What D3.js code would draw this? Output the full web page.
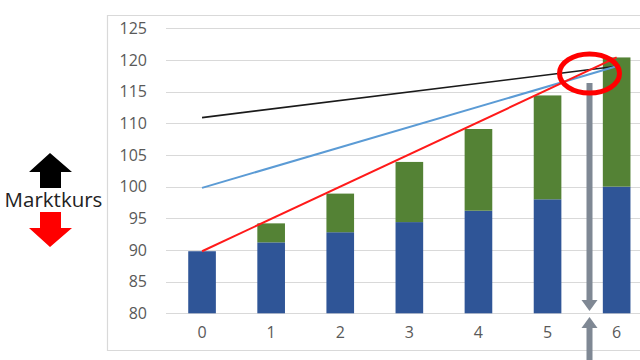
<!DOCTYPE html>
<html><head><meta charset="utf-8">
<script src="https://cdn.jsdelivr.net/npm/d3@7"></script>
<style>html,body{margin:0;padding:0;background:#fff;}svg{display:block;}</style>
</head><body>
<svg id="c" width="640" height="360"></svg>
<script>
const categories = ["0","1","2","3","4","5","6"];
const blueValues = [89.8, 91.2, 92.8, 94.4, 96.2, 98.0, 100.0];
const totalValues = [89.8, 94.2, 98.9, 103.9, 109.1, 114.4, 120.4];
const blackLine = [110.9, 119.0];
const blueLine = [99.8, 119.0];
const redLine = [89.8, 120.4];
const lineCats = ["0","6"];
const yTicks = [80,85,90,95,100,105,110,115,120,125];
const yMin = 80, yMax = 125;
const labelText = "Marktkurs";

const svg = d3.select("#c");
const x = d3.scaleBand().domain(categories).range([167.5, 651.2]).paddingInner(0.6).paddingOuter(0.3);
const y = d3.scaleLinear().domain([yMin, yMax]).range([313.3, 28.3]);
const cx = c => x(c) + x.bandwidth()/2;

// frame
svg.append("path").attr("d","M640,15.5H107.5V350.5H640").attr("fill","none").attr("stroke","#d9d9d9").attr("stroke-width",1.2);

// gridlines
svg.append("g").selectAll("line").data(yTicks).join("line")
  .attr("x1",166).attr("x2",640).attr("y1",d=>Math.round(y(d))+0.5).attr("y2",d=>Math.round(y(d))+0.5)
  .attr("stroke","#d9d9d9").attr("stroke-width",1);

// y axis labels
const yAxis = d3.axisLeft(y).tickValues(yTicks).tickSize(0).tickPadding(0);
const ya = svg.append("g").attr("transform","translate(147,0)").call(yAxis);
ya.select(".domain").remove();
ya.selectAll("text").attr("font-family","Open Sans").attr("font-size",16).attr("fill","#595959");

// x axis labels
const xAxis = d3.axisBottom(x).tickSize(0).tickPadding(0);
const xa = svg.append("g").attr("transform","translate(0,327)").call(xAxis);
xa.select(".domain").remove();
xa.selectAll("text").attr("font-family","Open Sans").attr("font-size",16).attr("fill","#595959");

// bars
svg.append("g").selectAll("rect").data(categories).join("rect")
  .attr("x",d=>x(d)).attr("width",x.bandwidth())
  .attr("y",(d,i)=>y(blueValues[i])).attr("height",(d,i)=>y(yMin)-y(blueValues[i]))
  .attr("fill","#2f5597");
svg.append("g").selectAll("rect").data(categories).join("rect")
  .attr("x",d=>x(d)).attr("width",x.bandwidth())
  .attr("y",(d,i)=>y(totalValues[i])).attr("height",(d,i)=>y(blueValues[i])-y(totalValues[i]))
  .attr("fill","#548235");

// lines
const line = d3.line().x((d,i)=>cx(lineCats[i])).y(d=>y(d));
svg.append("path").datum(blackLine).attr("d",line).attr("fill","none").attr("stroke","#1a1a1a").attr("stroke-width",1.6);
svg.append("path").datum(blueLine).attr("d",line).attr("fill","none").attr("stroke","#5b9bd5").attr("stroke-width",2);
svg.append("path").datum(redLine).attr("d",line).attr("fill","none").attr("stroke","#ff1a1a").attr("stroke-width",2);

// gray arrows
const gx = 589.5;
svg.append("rect").attr("x",gx-3).attr("y",83).attr("width",6).attr("height",220).attr("fill","#7f8894");
svg.append("path").attr("d",`M${gx-8},300L${gx+8},300L${gx},311Z`).attr("fill","#7f8894");
svg.append("rect").attr("x",gx-3).attr("y",325).attr("width",6).attr("height",40).attr("fill","#7f8894");
svg.append("path").attr("d",`M${gx-8},328L${gx+8},328L${gx},317Z`).attr("fill","#7f8894");

// red ellipse
svg.append("ellipse").attr("cx",589.5).attr("cy",73.5).attr("rx",30).attr("ry",19.5)
  .attr("fill","none").attr("stroke","#ff0000").attr("stroke-width",5);

// Marktkurs label with arrows
svg.append("path").attr("d","M50,153L72,172L61,172L61,188L40,188L40,172L29,172Z").attr("fill","#000");
svg.append("path").attr("d","M40,212L61,212L61,228L72,228L50,247L29,228L40,228Z").attr("fill","#ff0000");
svg.append("text").attr("x",53.5).attr("y",207).attr("text-anchor","middle")
  .attr("font-family","Open Sans").attr("font-size",20.5).attr("fill","#222").text(labelText);
</script>
</body></html>
